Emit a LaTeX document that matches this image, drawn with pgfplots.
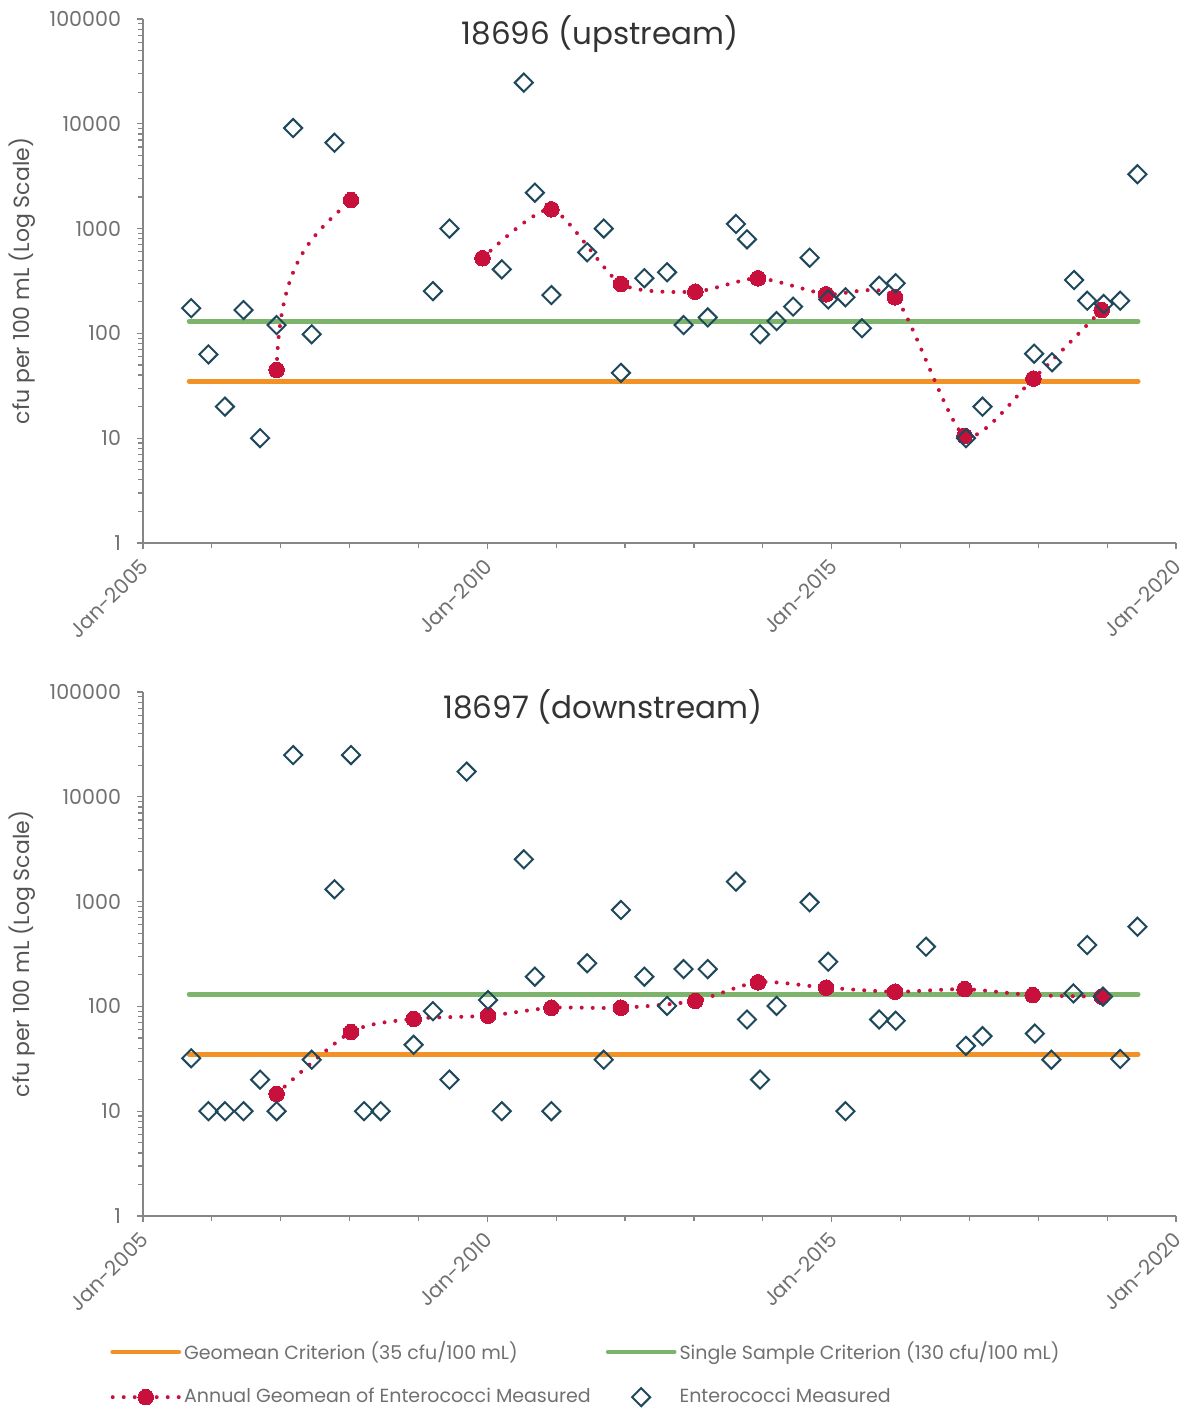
\documentclass[border=0pt]{standalone}
\usepackage{fontspec}
\setmainfont{Poppins}
\usepackage{pgfplots}
\pgfplotsset{compat=1.18}
\definecolor{geoorange}{RGB}{242,145,38}
\definecolor{ssgreen}{RGB}{125,180,108}
\definecolor{gmred}{RGB}{200,16,60}
\definecolor{ptblue}{RGB}{30,72,92}
\definecolor{axgray}{RGB}{134,134,134}
\definecolor{txtgray}{RGB}{112,112,112}
\pgfplotsset{
  legend image code/.code={\draw[mark repeat=2,mark phase=2,#1] plot coordinates {(0pt,0pt) (16.5pt,0pt) (33pt,0pt)};},
}
\begin{document}
\begin{tikzpicture}
\path[use as bounding box] (0,0) rectangle (594.5pt,706pt);
% ---------------- top panel ----------------
\begin{axis}[at={(71.5pt,434.5pt)}, anchor=south west,
  scale only axis, width=516.5pt, height=262pt,
  xmin=2005, xmax=2020, ymin=1, ymax=100000, ymode=log,
  axis x line*=bottom, axis y line*=left,
  axis line style={axgray, line width=0.8pt},
  xtick={2005,2010,2015,2020},
  xticklabels={Jan-2005,Jan-2010,Jan-2015,Jan-2020},
  minor xtick={2006,2007,2008,2009,2011,2012,2013,2014,2016,2017,2018,2019},
  ytick={1,10,100,1000,10000,100000},
  yticklabels={1,10,100,1000,10000,100000},
  minor ytick={2,3,4,5,6,7,8,9,20,30,40,50,60,70,80,90,200,300,400,500,600,700,800,900,2000,3000,4000,5000,6000,7000,8000,9000,20000,30000,40000,50000,60000,70000,80000,90000},
  tick align=outside, major tick length=3pt, minor tick length=2.5pt,
  tick style={axgray, line width=0.6pt},
  tick label style={font=\fontsize{10.3}{12}\selectfont, text=txtgray},
  xticklabel style={rotate=45, anchor=north east, inner sep=0pt, xshift=-4.4pt, yshift=-1.55pt},
  yticklabel style={xshift=-4.5pt},
  ylabel={cfu per 100 mL (Log Scale)},
  ylabel style={at={(axis description cs:-0.117,0.5)}, anchor=center, font=\fontsize{11}{13}\selectfont, text=txtgray!75!black},
  title={18696 (upstream)},
  title style={at={(axis description cs:0.4424,0.948)}, anchor=center, font=\fontsize{15.5}{19}\selectfont, text=black!80},
  clip=false]
\addplot[geoorange, line width=2.4pt, line cap=round] coordinates {(2005.67,35) (2019.45,35)};
\addplot[ssgreen, line width=2.4pt, line cap=round] coordinates {(2005.67,130) (2019.45,130)};
\draw[gmred, line width=2pt, dash pattern=on 0pt off 5.5pt, line cap=round] (axis cs:2006.94,44.8) .. controls (axis cs:2006.99,502) and (axis cs:2007.44,832) .. (axis cs:2008.02,1870);
\addplot[gmred, only marks, mark=*, mark size=3.9pt, mark options={solid, fill=gmred, draw=gmred, line width=0pt}] coordinates {(2006.94,44.8) (2008.02,1870)};
\addplot[gmred, line width=2pt, dash pattern=on 0pt off 5.5pt, line cap=round, smooth, tension=0.4, mark=*, mark size=3.9pt, mark options={solid, fill=gmred, draw=gmred, line width=0pt}] coordinates {
(2009.93,521) (2010.93,1528) (2011.94,296) (2013.02,250) (2013.93,336)
(2014.92,236) (2015.92,221) (2016.93,10.5) (2017.93,37) (2018.92,167)};
\addplot[only marks, mark=square, mark size=3.2pt, mark options={draw=ptblue, rotate=45, line width=1pt, solid}] coordinates {
(2005.70,174) (2005.95,63) (2006.19,20) (2006.46,167) (2006.70,10)
(2006.94,120) (2007.18,9100) (2007.45,98) (2007.78,6600) (2009.21,253)
(2009.45,1000) (2010.21,408) (2010.53,24700) (2010.69,2200) (2010.93,232)
(2011.45,594) (2011.69,1000) (2011.94,42) (2012.28,336) (2012.61,383)
(2012.85,120) (2013.20,142) (2013.61,1107) (2013.77,790) (2013.96,98)
(2014.20,131) (2014.44,180) (2014.68,527) (2014.95,211) (2015.20,221)
(2015.44,112) (2015.69,285) (2015.93,301) (2016.95,10) (2017.19,20)
(2017.94,64) (2018.20,53) (2018.52,323) (2018.71,205) (2018.95,191)
(2019.19,205) (2019.44,3300)};
\end{axis}
% ---------------- bottom panel ----------------
\begin{axis}[at={(71.5pt,98pt)}, anchor=south west,
  scale only axis, width=516.5pt, height=262pt,
  xmin=2005, xmax=2020, ymin=1, ymax=100000, ymode=log,
  axis x line*=bottom, axis y line*=left,
  axis line style={axgray, line width=0.8pt},
  xtick={2005,2010,2015,2020},
  xticklabels={Jan-2005,Jan-2010,Jan-2015,Jan-2020},
  minor xtick={2006,2007,2008,2009,2011,2012,2013,2014,2016,2017,2018,2019},
  ytick={1,10,100,1000,10000,100000},
  yticklabels={1,10,100,1000,10000,100000},
  minor ytick={2,3,4,5,6,7,8,9,20,30,40,50,60,70,80,90,200,300,400,500,600,700,800,900,2000,3000,4000,5000,6000,7000,8000,9000,20000,30000,40000,50000,60000,70000,80000,90000},
  tick align=outside, major tick length=3pt, minor tick length=2.5pt,
  tick style={axgray, line width=0.6pt},
  tick label style={font=\fontsize{10.3}{12}\selectfont, text=txtgray},
  xticklabel style={rotate=45, anchor=north east, inner sep=0pt, xshift=-4.4pt, yshift=-1.55pt},
  yticklabel style={xshift=-4.5pt},
  ylabel={cfu per 100 mL (Log Scale)},
  ylabel style={at={(axis description cs:-0.117,0.5)}, anchor=center, font=\fontsize{11}{13}\selectfont, text=txtgray!75!black},
  title={18697 (downstream)},
  title style={at={(axis description cs:0.4453,0.948)}, anchor=center, font=\fontsize{15.5}{19}\selectfont, text=black!80},
  clip=false,
  legend columns=2,
  legend cell align=left,
  legend style={draw=none, fill=none, at={(axis description cs:-0.032,-0.233)}, anchor=north west,
    inner sep=0pt, font=\fontsize{9.5}{11}\selectfont, text=txtgray,
    nodes={inner sep=1.5pt},
    /tikz/every even column/.append style={column sep=6pt},
    row sep=10pt}]
\addplot[geoorange, line width=2.4pt, line cap=round] coordinates {(2005.67,35) (2019.45,35)};
\addlegendentry{Geomean Criterion (35 cfu/100 mL)}
\addplot[ssgreen, line width=2.4pt, line cap=round] coordinates {(2005.67,130) (2019.45,130)};
\addlegendentry{Single Sample Criterion (130 cfu/100 mL)}
\addplot[gmred, line width=2pt, dash pattern=on 0pt off 5.5pt, line cap=round, smooth, tension=0.45, mark=*, mark size=3.9pt, mark options={solid, fill=gmred, draw=gmred, line width=0pt}] coordinates {
(2006.94,14.6) (2008.02,57) (2008.93,76) (2010.01,81.5) (2010.93,97)
(2011.94,97) (2013.02,113) (2013.93,170) (2014.92,151) (2015.92,138)
(2016.93,146) (2017.92,128) (2018.92,124)};
\addlegendentry{Annual Geomean of Enterococci Measured}
\addplot[only marks, mark=square, mark size=3.2pt, mark options={draw=ptblue, rotate=45, line width=1pt, solid}] coordinates {
(2005.70,32) (2005.95,10) (2006.19,10) (2006.46,10) (2006.70,20)
(2006.94,10) (2007.18,25000) (2007.45,31) (2007.78,1310) (2008.02,25000)
(2008.21,10) (2008.45,10) (2008.93,43) (2009.21,90) (2009.45,20)
(2009.70,17400) (2010.01,115) (2010.21,10) (2010.53,2530) (2010.69,192)
(2010.93,10) (2011.45,258) (2011.69,31) (2011.94,832) (2012.28,192)
(2012.61,101) (2012.85,227) (2013.20,227) (2013.61,1550) (2013.77,75)
(2013.96,20) (2014.20,101) (2014.68,985) (2014.95,267) (2015.20,10)
(2015.69,75) (2015.93,73) (2016.37,371) (2016.95,42) (2017.19,52)
(2017.95,55) (2018.19,31) (2018.51,133) (2018.71,385) (2018.94,124)
(2019.19,31.5) (2019.44,576)};
\addlegendentry{Enterococci Measured}
\end{axis}
\end{tikzpicture}
\end{document}
